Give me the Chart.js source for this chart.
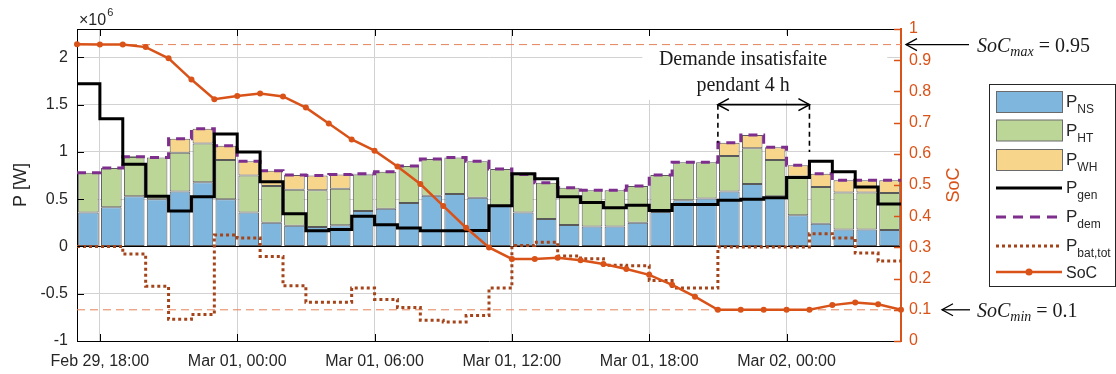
<!DOCTYPE html>
<html lang="fr">
<head>
<meta charset="utf-8">
<title>Puissances et SoC</title>
<script src="https://cdn.jsdelivr.net/npm/chart.js@4.4.1/dist/chart.umd.min.js"></script>
<style>
  html, body { margin: 0; padding: 0; background: #fff; }
  canvas { display: block; }
</style>
</head>
<body>
<canvas id="graphe" width="1116" height="374"></canvas>
<script>
// Pas horaires depuis le 29 fév. 17:00, sur 36 h. Puissances en MW (axe x10^6 W).
const NB_HEURES = 36;
const X_TICK_HEURES = [1, 7, 13, 19, 25, 31];
const X_TICK_LABELS = ['Feb 29, 18:00', 'Mar 01, 00:00', 'Mar 01, 06:00', 'Mar 01, 12:00', 'Mar 01, 18:00', 'Mar 02, 00:00'];
const Y_TICKS = [-1, -0.5, 0, 0.5, 1, 1.5, 2];
const SOC_TICKS = [0, 0.1, 0.2, 0.3, 0.4, 0.5, 0.6, 0.7, 0.8, 0.9, 1];

const P_NS = [0.36, 0.415, 0.53, 0.50, 0.58, 0.68, 0.50, 0.36, 0.25, 0.22, 0.205, 0.225,
              0.375, 0.40, 0.46, 0.535, 0.555, 0.515, 0.43, 0.36, 0.29, 0.227, 0.21, 0.21,
              0.25, 0.365, 0.49, 0.507, 0.58, 0.66, 0.53, 0.33, 0.24, 0.18, 0.18, 0.175];
const P_HT = [0.42, 0.415, 0.415, 0.44, 0.41, 0.41, 0.415, 0.39, 0.39, 0.38, 0.39, 0.385,
              0.385, 0.39, 0.39, 0.39, 0.385, 0.385, 0.39, 0.40, 0.385, 0.393, 0.385, 0.385,
              0.39, 0.39, 0.40, 0.383, 0.377, 0.38, 0.385, 0.41, 0.39, 0.39, 0.39, 0.39];
const P_WH = [0, 0, 0.01, 0, 0.15, 0.155, 0.15, 0.15, 0.16, 0.155, 0.155, 0.15,
              0.01, 0, 0, 0, 0, 0, 0, 0, 0, 0, 0, 0,
              0, 0, 0, 0, 0.14, 0.14, 0.135, 0.12, 0.14, 0.13, 0.13, 0.135];
const P_GEN = [1.72, 1.35, 0.87, 0.53, 0.375, 0.525, 1.19, 1.0, 0.685, 0.345, 0.165, 0.18,
               0.32, 0.23, 0.195, 0.165, 0.165, 0.17, 0.43, 0.77, 0.715, 0.525, 0.465, 0.41,
               0.435, 0.38, 0.445, 0.443, 0.49, 0.50, 0.515, 0.73, 0.90, 0.79, 0.63, 0.45];
const P_DEM = [0.78, 0.83, 0.95, 0.94, 1.14, 1.245, 1.065, 0.90, 0.80, 0.755, 0.75, 0.76,
               0.77, 0.79, 0.85, 0.925, 0.94, 0.90, 0.82, 0.76, 0.675, 0.62, 0.595, 0.595,
               0.64, 0.755, 0.89, 0.89, 1.097, 1.18, 1.05, 0.86, 0.77, 0.70, 0.70, 0.70];
const P_BAT = [0, 0, -0.08, -0.42, -0.77, -0.72, 0.12, 0.09, -0.105, -0.415, -0.59, -0.59,
               -0.44, -0.56, -0.645, -0.78, -0.80, -0.73, -0.44, 0.01, 0.045, -0.10, -0.13, -0.20,
               -0.205, -0.36, -0.44, -0.44, -0.005, -0.005, -0.005, -0.005, 0.135, 0.09, -0.07, -0.155];
// SoC aux bornes horaires (37 points)
const SOC = [0.951, 0.95, 0.95, 0.942, 0.906, 0.838, 0.775, 0.785, 0.793, 0.784, 0.748, 0.697,
             0.646, 0.61, 0.559, 0.503, 0.433, 0.363, 0.30, 0.263, 0.263, 0.267, 0.259, 0.247,
             0.231, 0.212, 0.18, 0.142, 0.10, 0.10, 0.10, 0.10, 0.10, 0.115, 0.123, 0.118, 0.10];
const SOC_MAX = 0.95;
const SOC_MIN = 0.1;

const ORANGE = '#D95319';
const GRIS_TEXTE = '#262626';
const COULEURS = { ns: '#7EB6DE', ht: '#BCD698', wh: '#F7D68C', gen: '#000000', dem: '#7E2F8E', bat: '#A3441B' };

// barres centrées sur le milieu de chaque heure
const barres = serie => serie.map((v, i) => ({ x: i + 0.5, y: v }));
// marches : valeur tenue sur toute l'heure
const marches = serie => serie.map((v, i) => ({ x: i, y: v })).concat([{ x: NB_HEURES, y: serie[serie.length - 1] }]);

function texteIndice(ctx, x, y, main, sub, tailleMain, tailleSub, dy, famille, style) {
    famille = famille || '"Liberation Sans", Arial, sans-serif';
    style = style || '';
    ctx.font = style + ' ' + tailleMain + 'px ' + famille;
    ctx.fillText(main, x, y);
    const w = ctx.measureText(main).width;
    ctx.font = style + ' ' + tailleSub + 'px ' + famille;
    ctx.fillText(sub, x + w, y + dy);
    return x + w + ctx.measureText(sub).width;
}

function pointeFleche(ctx, x, y, sens) {
    ctx.beginPath();
    ctx.moveTo(x + sens * 11, y - 6);
    ctx.lineTo(x, y);
    ctx.lineTo(x + sens * 11, y + 6);
    ctx.stroke();
}

const decorations = {
    id: 'decorations',
    beforeDatasetsDraw(chart) {
        const { ctx } = chart;
        const sx = chart.scales.x, sy = chart.scales.y;
        // fond blanc derrière l'annotation
        const x0 = sx.getPixelForValue(24.7), x1 = sx.getPixelForValue(35.4);
        const y0 = sy.getPixelForValue(2.24), y1 = sy.getPixelForValue(1.55);
        ctx.save();
        ctx.fillStyle = '#fff';
        ctx.fillRect(x0, y0, x1 - x0, y1 - y0);
        ctx.restore();
    },
    afterDraw(chart) {
        const { ctx, chartArea } = chart;
        const sx = chart.scales.x, sy = chart.scales.y, s1 = chart.scales.y1;
        ctx.save();

        // cadre haut + graduations vers l'intérieur
        ctx.strokeStyle = '#000';
        ctx.lineWidth = 1;
        ctx.beginPath();
        ctx.moveTo(chartArea.left, chartArea.top + 0.5);
        ctx.lineTo(chartArea.right, chartArea.top + 0.5);
        X_TICK_HEURES.forEach(h => {
            const px = Math.round(sx.getPixelForValue(h)) + 0.5;
            ctx.moveTo(px, chartArea.bottom); ctx.lineTo(px, chartArea.bottom - 7);
            ctx.moveTo(px, chartArea.top); ctx.lineTo(px, chartArea.top + 7);
        });
        Y_TICKS.forEach(v => {
            const py = Math.round(sy.getPixelForValue(v)) + 0.5;
            ctx.moveTo(chartArea.left, py); ctx.lineTo(chartArea.left + 7, py);
        });
        ctx.stroke();
        ctx.strokeStyle = ORANGE;
        ctx.lineWidth = 1.5;
        ctx.beginPath();
        SOC_TICKS.forEach(v => {
            const py = Math.round(s1.getPixelForValue(v)) + 0.5;
            ctx.moveTo(chartArea.right, py); ctx.lineTo(chartArea.right - 7, py);
        });
        ctx.stroke();

        // x10^6
        ctx.fillStyle = GRIS_TEXTE;
        ctx.textBaseline = 'alphabetic';
        ctx.textAlign = 'left';
        ctx.font = '16px "Liberation Sans", Arial, sans-serif';
        ctx.fillText('\u00d710', 79, 25);
        const wx = ctx.measureText('\u00d710').width;
        ctx.font = '11px "Liberation Sans", Arial, sans-serif';
        ctx.fillText('6', 79 + wx + 1, 16);

        // titre axe SoC
        ctx.save();
        ctx.translate(954, (chartArea.top + chartArea.bottom) / 2);
        ctx.rotate(-Math.PI / 2);
        ctx.fillStyle = ORANGE;
        ctx.textAlign = 'center';
        ctx.textBaseline = 'middle';
        ctx.font = '18px "Liberation Sans", Arial, sans-serif';
        ctx.fillText('SoC', 0, 0);
        ctx.restore();

        // annotation demande insatisfaite
        const xa = sx.getPixelForValue(28), xb = sx.getPixelForValue(32);
        const ya = sy.getPixelForValue(1.5);
        ctx.fillStyle = '#1a1a1a';
        ctx.textAlign = 'center';
        ctx.font = '20px "Liberation Serif", "Times New Roman", serif';
        const xc = sx.getPixelForValue(29.1);
        ctx.fillText('Demande insatisfaite', xc, sy.getPixelForValue(1.92));
        ctx.fillText('pendant 4 h', xc, sy.getPixelForValue(1.645));
        ctx.strokeStyle = '#000';
        ctx.lineWidth = 1.6;
        ctx.beginPath();
        ctx.moveTo(xa, ya); ctx.lineTo(xb, ya);
        ctx.stroke();
        pointeFleche(ctx, xa, ya, 1);
        pointeFleche(ctx, xb, ya, -1);
        ctx.setLineDash([5, 4]);
        ctx.beginPath();
        ctx.moveTo(xa, ya); ctx.lineTo(xa, sy.getPixelForValue(P_DEM[28]));
        ctx.moveTo(xb, ya); ctx.lineTo(xb, sy.getPixelForValue(1.0));
        ctx.stroke();
        ctx.setLineDash([]);

        // SoC max / min
        ctx.textAlign = 'left';
        ctx.lineWidth = 1.3;
        [[SOC_MAX, 'max', ' = 0.95', 969], [SOC_MIN, 'min', ' = 0.1', 970]].forEach(([v, sub, suite, xd]) => {
            const py = s1.getPixelForValue(v);
            const xf = v === SOC_MAX ? chartArea.right + 5 : 942;
            ctx.beginPath();
            ctx.moveTo(xd, py); ctx.lineTo(xf, py);
            ctx.stroke();
            pointeFleche(ctx, xf, py, 1);
            const fin = texteIndice(ctx, 977, py + 7, 'SoC', sub, 20, 14, 4, '"Liberation Serif", "Times New Roman", serif', 'italic');
            ctx.font = '20px "Liberation Serif", "Times New Roman", serif';
            ctx.fillText(suite, fin, py + 7);
        });

        // légende
        const lx = 989.5, ly = 84.5, lw = 126, lh = 202;
        ctx.fillStyle = '#fff';
        ctx.fillRect(lx, ly, lw, lh);
        ctx.strokeStyle = '#262626';
        ctx.lineWidth = 1;
        ctx.strokeRect(lx, ly, lw, lh);
        const entrees = [
            { t: 'P', s: 'NS', type: 'patch', c: COULEURS.ns, y: 102 },
            { t: 'P', s: 'HT', type: 'patch', c: COULEURS.ht, y: 130.5 },
            { t: 'P', s: 'WH', type: 'patch', c: COULEURS.wh, y: 160 },
            { t: 'P', s: 'gen', type: 'ligne', c: COULEURS.gen, y: 188, dash: [] },
            { t: 'P', s: 'dem', type: 'ligne', c: COULEURS.dem, y: 217, dash: [10, 7] },
            { t: 'P', s: 'bat,tot', type: 'ligne', c: COULEURS.bat, y: 246, dash: [3, 3] },
            { t: 'SoC', s: '', type: 'soc', c: ORANGE, y: 272 }
        ];
        entrees.forEach(e => {
            if (e.type === 'patch') {
                ctx.fillStyle = e.c;
                ctx.fillRect(996.5, e.y - 10.5, 66, 21);
                ctx.strokeStyle = '#6b6b6b';
                ctx.lineWidth = 1;
                ctx.strokeRect(996.5, e.y - 10.5, 66, 21);
            } else {
                ctx.strokeStyle = e.c;
                ctx.lineWidth = e.type === 'soc' ? 2.5 : 3;
                ctx.setLineDash(e.dash || []);
                ctx.beginPath();
                ctx.moveTo(996, e.y); ctx.lineTo(1062, e.y);
                ctx.stroke();
                ctx.setLineDash([]);
                if (e.type === 'soc') {
                    ctx.fillStyle = e.c;
                    ctx.beginPath();
                    ctx.arc(1029, e.y, 3.5, 0, Math.PI * 2);
                    ctx.fill();
                }
            }
            ctx.fillStyle = GRIS_TEXTE;
            if (e.s) {
                texteIndice(ctx, 1066, e.y + 5, e.t, e.s, 17, 12, 6);
            } else {
                ctx.font = '16px "Liberation Sans", Arial, sans-serif';
                ctx.fillText(e.t, 1066, e.y + 6);
            }
        });
        ctx.restore();
    }
};

const stylePolice = { family: '"Liberation Sans", Arial, sans-serif', size: 16 };
const couleurGrille = c => (c.tick && c.tick.value === 0 ? '#000000' : '#d2d2d2');

new Chart(document.getElementById('graphe'), {
    data: {
        datasets: [
            { type: 'bar', label: 'P_NS', data: barres(P_NS), backgroundColor: COULEURS.ns, borderColor: '#5a5a5a', borderWidth: 1, borderSkipped: false, order: 10, yAxisID: 'y', barPercentage: 0.9, categoryPercentage: 1 },
            { type: 'bar', label: 'P_HT', data: barres(P_HT), backgroundColor: COULEURS.ht, borderColor: '#5a5a5a', borderWidth: 1, borderSkipped: false, order: 11, yAxisID: 'y', barPercentage: 0.9, categoryPercentage: 1 },
            { type: 'bar', label: 'P_WH', data: barres(P_WH), backgroundColor: COULEURS.wh, borderColor: '#5a5a5a', borderWidth: 1, borderSkipped: false, order: 12, yAxisID: 'y', barPercentage: 0.9, categoryPercentage: 1 },
            { type: 'line', label: 'SoC max', data: [{ x: 0, y: SOC_MAX }, { x: NB_HEURES, y: SOC_MAX }], borderColor: '#E4825A', borderWidth: 1, borderDash: [8, 5], pointRadius: 0, yAxisID: 'y1', order: 5 },
            { type: 'line', label: 'SoC min', data: [{ x: 0, y: SOC_MIN }, { x: NB_HEURES, y: SOC_MIN }], borderColor: '#E4825A', borderWidth: 1, borderDash: [8, 5], pointRadius: 0, yAxisID: 'y1', order: 5 },
            { type: 'line', label: 'P_bat,tot', data: marches(P_BAT), stepped: true, borderColor: COULEURS.bat, borderWidth: 3, borderDash: [3, 3], pointRadius: 0, yAxisID: 'yLigne', order: 4 },
            { type: 'line', label: 'P_dem', data: marches(P_DEM), stepped: true, borderColor: COULEURS.dem, borderWidth: 3, borderDash: [9, 6], pointRadius: 0, yAxisID: 'yLigne', order: 3 },
            { type: 'line', label: 'P_gen', data: marches(P_GEN), stepped: true, borderColor: COULEURS.gen, borderWidth: 3, pointRadius: 0, yAxisID: 'yLigne', order: 2 },
            { type: 'line', label: 'SoC', data: SOC.map((v, k) => ({ x: k, y: v })), borderColor: ORANGE, backgroundColor: ORANGE, borderWidth: 2.5, pointRadius: 3, pointBorderWidth: 0, yAxisID: 'y1', order: 1, clip: false }
        ]
    },
    options: {
        responsive: false,
        animation: false,
        devicePixelRatio: 1,
        layout: { padding: { top: 29, left: 0, right: 0, bottom: 0 } },
        plugins: { legend: { display: false }, tooltip: { enabled: false } },
        scales: {
            x: {
                type: 'linear', min: 0, max: NB_HEURES, stacked: true, offset: false,
                grid: { color: '#d2d2d2', drawTicks: false, offset: false },
                border: { color: '#000', width: 1 },
                afterBuildTicks: s => { s.ticks = X_TICK_HEURES.map(v => ({ value: v })); },
                afterFit: s => { s.height = 33; },
                ticks: { font: stylePolice, color: GRIS_TEXTE, padding: 11, maxRotation: 0, autoSkip: false,
                         callback: v => X_TICK_LABELS[X_TICK_HEURES.indexOf(v)] }
            },
            y: {
                type: 'linear', position: 'left', min: -1, max: 2.3, stacked: true,
                grid: { color: couleurGrille, drawTicks: false },
                border: { color: '#000', width: 1 },
                afterBuildTicks: s => { s.ticks = Y_TICKS.map(v => ({ value: v })); },
                afterFit: s => { s.width = 77; },
                ticks: { font: stylePolice, color: GRIS_TEXTE, padding: 9, callback: v => String(v) },
                title: { display: true, text: 'P [W]', color: GRIS_TEXTE, font: { family: stylePolice.family, size: 18 }, padding: { top: 10, bottom: 0 } }
            },
            yLigne: { type: 'linear', min: -1, max: 2.3, display: false },
            y1: {
                type: 'linear', position: 'right', min: 0, max: 1,
                grid: { drawOnChartArea: false, drawTicks: false },
                border: { color: ORANGE, width: 2 },
                afterBuildTicks: s => { s.ticks = SOC_TICKS.map(v => ({ value: v })); },
                afterFit: s => { s.width = 215; },
                ticks: { font: stylePolice, color: ORANGE, padding: 8, callback: v => String(Number(v.toFixed(1))) }
            }
        }
    },
    plugins: [decorations]
});
</script>
</body>
</html>
